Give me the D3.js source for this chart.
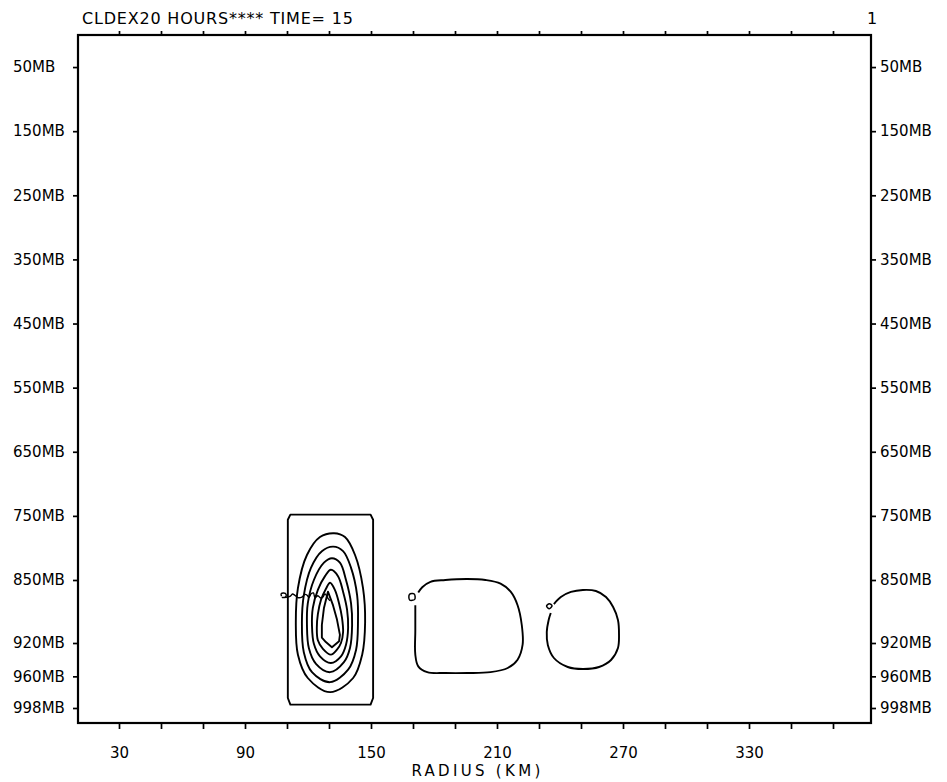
<!DOCTYPE html>
<html>
<head>
<meta charset="utf-8">
<script src="https://cdn.jsdelivr.net/npm/d3@7"></script>
<style>
  body { margin: 0; background: #fff; }
  svg { display: block; }
</style>
</head>
<body>
<div id="chart"></div>
<script>
// axis values (radius in km, pressure in mb)
const xTickKm = [30, 50, 70, 90, 110, 130, 150, 170, 190, 210, 230, 250, 270, 290, 310, 330, 350, 370];
const xLabelKm = [30, 90, 150, 210, 270, 330];
const pLevels = [50, 150, 250, 350, 450, 550, 650, 750, 850, 920, 960, 998];

const titleText = "CLDEX20 HOURS**** TIME= 15";
const frameNo = "1";
const xTitle = "RADIUS (KM)";

// contour lines, [radius km, pressure mb]
const boxOutline = [
    [110.4, 756], [111.6, 748], [149.8, 748], [151, 756],
    [151, 986], [149.8, 994], [111.6, 994], [110.4, 986]
];
const ring1 = [
    [132.4, 777], [137.6, 783], [142.4, 811], [146.2, 859], [147.2, 897], [145.8, 934], [141.5, 962],
    [130.5, 979], [119.9, 962], [115.2, 934], [114.2, 897], [115.2, 859], [119.5, 811], [125.7, 783]
];
const ring2 = [
    [132, 798], [136.7, 805], [140.5, 831], [143.4, 867], [143.8, 897], [142.9, 928], [139.1, 952],
    [130.5, 967], [121.9, 955], [118, 931], [117.1, 897], [118, 867], [121.4, 831], [126.6, 805]
];
const ring3 = [
    [131.4, 816], [135.2, 823], [138.1, 850], [140.5, 876], [141, 900], [140, 926], [137.1, 943],
    [130.5, 955], [123.8, 945], [120.4, 926], [119.5, 900], [119.9, 876], [122.8, 850], [127.6, 823]
];
const ring4 = [
    [130.9, 834], [134.3, 844], [136.7, 863], [138.6, 883], [139.1, 903], [138.1, 922], [135.7, 936],
    [130.9, 944], [125.7, 936], [122.8, 921], [121.9, 901], [122.3, 881], [124.7, 861], [128.1, 844]
];
const ring5 = [
    [130.5, 853], [132.8, 861], [134.8, 876], [136.2, 892], [136.7, 908], [135.7, 920], [133.8, 928],
    [130.9, 934], [127.1, 927], [124.7, 917], [124.2, 903], [124.7, 888], [126.2, 872], [128.5, 860]
];
const ring6 = [
    [129.5, 863], [131.9, 878], [133.8, 894], [135.2, 911], [134.8, 918], [131.4, 925],
    [128.5, 919], [126.6, 914], [126.6, 900], [127.6, 881]
];
const squiggle = [
    [107.4, 868], [107.2, 865.5], [108.4, 864.5], [109.6, 866], [109.2, 869], [107.8, 869.5],
    [110.2, 869], [111.6, 868], [112.6, 865.6], [113.8, 867], [115.2, 869.5], [117.1, 869],
    [118.6, 866], [119.6, 867], [120.4, 869.5], [121.6, 865], [122.6, 864.4], [123.3, 869.5],
    [124.7, 867.5], [126, 870], [127, 869], [128.1, 865.6], [129, 868], [129.5, 870.5], [130.5, 873]
];
const blobMid = [
    [171.1, 878], [171.1, 906], [171.1, 934], [172.5, 948], [176.8, 955], [185.4, 956], [195.9, 956],
    [206.9, 955], [215.1, 950], [219.8, 940], [222.2, 922], [221.8, 900], [219.8, 878], [216.5, 863],
    [211.7, 854], [204.5, 850], [195.9, 848.4], [185.4, 850], [178.3, 852], [174.4, 858], [172.5, 864]
];
const loopMid = [[168.3, 866], [170.6, 865.5], [170.8, 871.5], [168.4, 872.2]];
const blobRight = [
    [237.1, 876.7], [240.4, 868.9], [245.2, 863.3], [250.9, 861.1], [257.1, 862.2], [261.9, 868.9],
    [265.3, 880], [267.6, 894.4], [268.1, 911.1], [267.6, 926], [264.3, 940.4], [258.6, 948.8],
    [250.9, 951.2], [243.7, 948.8], [237.1, 938], [234.2, 922.4], [233.7, 907.8], [234.6, 894.4], [235.6, 886.7]
];
const loopRight = [[233.6, 879], [234.9, 876.3], [236.2, 878.6], [234.9, 882]];

const margin = {top: 35, right: 76, bottom: 59, left: 78};
const W = 947, H = 782;
const width = W - margin.left - margin.right;
const height = H - margin.top - margin.bottom;
const FONT = "'DejaVu Sans', sans-serif";

const svg = d3.select("#chart").append("svg")
    .attr("width", W)
    .attr("height", H)
;
const g = svg.append("g")
    .attr("transform", "translate(" + margin.left + "," + margin.top + ")")
;

// radius runs linearly (the plotted frame is a touch narrower than the km range),
// the pressure axis is stretched below 850mb like the original
const x = d3.scaleLinear().domain([10, 390]).range([-1, width + 4]);
const y = d3.scaleLinear().domain([0, 850, 920, 1016]).range([0, 545, 608, height]);

function styleAxis(sel) {
    sel.select(".domain").remove();
    sel.selectAll(".tick line").attr("stroke", "#000").attr("stroke-width", 1.7);
    sel.selectAll("text").attr("fill", "#000");
    sel.attr("font-family", FONT).attr("font-size", 15);
}

g.append("g")
    .call(d3.axisLeft(y).tickValues(pLevels).tickSize(5).tickFormat(d => d + "MB"))
    .call(styleAxis)
    .call(s => s.selectAll("text").attr("x", 13 - margin.left).attr("text-anchor", "start"))
;
g.append("g")
    .attr("transform", "translate(" + width + ",0)")
    .call(d3.axisRight(y).tickValues(pLevels).tickSize(5).tickFormat(d => d + "MB"))
    .call(styleAxis)
    .call(s => s.selectAll("text").attr("x", 9))
;
g.append("g")
    .attr("transform", "translate(0," + height + ")")
    .call(d3.axisBottom(x).tickValues(xTickKm).tickSize(6)
        .tickFormat(d => xLabelKm.includes(d) ? d : ""))
    .call(styleAxis)
    .call(s => s.selectAll("text").attr("y", 0).attr("dy", 35))
;
g.append("g")
    .call(d3.axisTop(x).tickValues(xTickKm).tickSize(4).tickFormat(""))
    .call(styleAxis)
;

// frame
g.append("rect")
    .attr("x", 0).attr("y", 0)
    .attr("width", width).attr("height", height)
    .attr("fill", "none")
    .attr("stroke", "#000")
    .attr("stroke-width", 2.2)
;

// contours
const smooth = d3.line().x(d => x(d[0])).y(d => y(d[1])).curve(d3.curveCatmullRomClosed.alpha(0.5));
const open = d3.line().x(d => x(d[0])).y(d => y(d[1])).curve(d3.curveCatmullRom.alpha(0.5));
const poly = d3.line().x(d => x(d[0])).y(d => y(d[1])).curve(d3.curveLinearClosed);

const contG = g.append("g")
    .attr("fill", "none")
    .attr("stroke", "#000")
    .attr("stroke-width", 1.9)
    .attr("stroke-linejoin", "round")
;
contG.append("path").attr("d", poly(boxOutline));
[ring1, ring2, ring3, ring4, ring5].forEach(r => {
    contG.append("path").attr("d", smooth(r));
});
contG.append("path").attr("d", poly(ring6));
contG.append("path").attr("d", open(squiggle)).attr("stroke-width", 1.4);
contG.append("path").attr("d", open(blobMid));
contG.append("path").attr("d", smooth(loopMid)).attr("stroke-width", 1.5);
contG.append("path").attr("d", open(blobRight));
contG.append("path").attr("d", smooth(loopRight)).attr("stroke-width", 1.5);

// titles
svg.append("text")
    .attr("x", 82).attr("y", 24)
    .attr("font-family", FONT).attr("font-size", 16)
    .attr("letter-spacing", 0.8)
    .text(titleText)
;
svg.append("text")
    .attr("x", margin.left + width + 1).attr("y", 24)
    .attr("font-family", FONT).attr("font-size", 16)
    .attr("text-anchor", "middle")
    .text(frameNo)
;
svg.append("text")
    .attr("x", margin.left + width / 2 + 3).attr("y", H - 6)
    .attr("font-family", FONT).attr("font-size", 15)
    .attr("letter-spacing", 3.3)
    .attr("text-anchor", "middle")
    .text(xTitle)
;
</script>
</body>
</html>
